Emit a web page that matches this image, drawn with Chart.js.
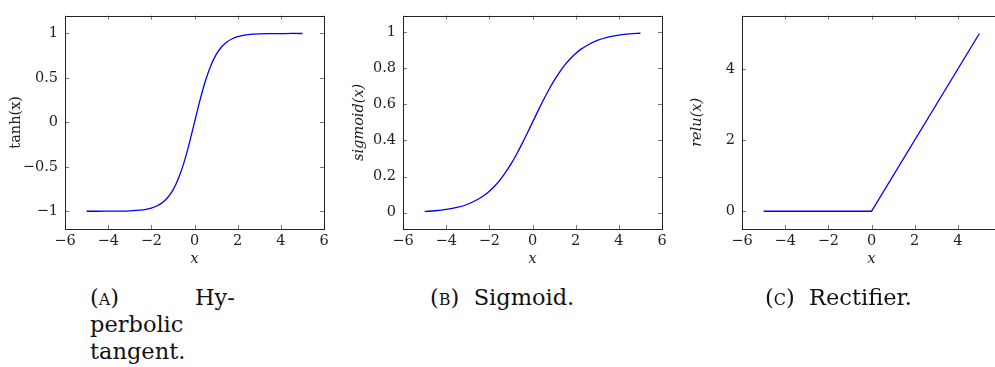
<!DOCTYPE html>
<html>
<head>
<meta charset="utf-8">
<script src="https://cdn.jsdelivr.net/npm/chart.js"></script>
<style>
  html, body { margin: 0; padding: 0; background: #fff; overflow: hidden; }
  body { width: 995px; height: 367px; position: relative; }
  .panel { position: absolute; top: 0; width: 340px; height: 270px; }
  .cap { position: absolute; font-family: "DejaVu Serif", serif; font-size: 22.5px; line-height: 27px; color: #111; white-space: nowrap; }
  .sc { font-variant: small-caps; }
</style>
</head>
<body>
<div class="panel" style="left:0px"><canvas id="chartA" width="340" height="270"></canvas></div>
<div class="panel" style="left:338px"><canvas id="chartB" width="340" height="270"></canvas></div>
<div class="panel" style="left:677px"><canvas id="chartC" width="340" height="270"></canvas></div>

<div class="cap" style="left:90px; top:284px">(<span class="sc">a</span>)</div>
<div class="cap" style="left:195px; top:284px">Hy-</div>
<div class="cap" style="left:90px; top:311px">perbolic</div>
<div class="cap" style="left:90px; top:338px">tangent.</div>
<div class="cap" style="left:430px; top:284px">(<span class="sc">b</span>)&nbsp; Sigmoid.</div>
<div class="cap" style="left:765px; top:284px">(<span class="sc">c</span>)&nbsp; Rectifier.</div>

<script>
// valeurs
const xTicks = [-6, -4, -2, 0, 2, 4, 6];

const curveX = [-5, -4.5, -4, -3.5, -3, -2.5, -2.25, -2, -1.75, -1.5, -1.25, -1, -0.75, -0.5, -0.25, 0,
                0.25, 0.5, 0.75, 1, 1.25, 1.5, 1.75, 2, 2.25, 2.5, 3, 3.5, 4, 4.5, 5];
const tanhY = [-1, -1, -0.999, -0.998, -0.995, -0.987, -0.978, -0.964, -0.941, -0.905, -0.848, -0.762, -0.635, -0.462, -0.245, 0,
               0.245, 0.462, 0.635, 0.762, 0.848, 0.905, 0.941, 0.964, 0.978, 0.987, 0.995, 0.998, 0.999, 1, 1];
const sigmoidY = [0.007, 0.011, 0.018, 0.029, 0.047, 0.076, 0.095, 0.119, 0.148, 0.182, 0.223, 0.269, 0.321, 0.378, 0.438, 0.5,
                  0.562, 0.622, 0.679, 0.731, 0.777, 0.818, 0.852, 0.881, 0.905, 0.924, 0.953, 0.971, 0.982, 0.989, 0.993];

const reluX = [-5, 0, 5];
const reluY = [0, 0, 5];

const tanhTicks = [-1, -0.5, 0, 0.5, 1];
const sigmoidTicks = [0, 0.2, 0.4, 0.6, 0.8, 1];
const reluTicks = [0, 2, 4];

const serif = "'DejaVu Serif', serif";

function formatTick(v) {
    return v < 0 ? "\u2212" + Math.abs(v) : String(v);
}

// cadre + petites graduations vers l'intérieur
const cadre = {
    id: "cadre",
    afterDraw(chart) {
        const { ctx, chartArea: a, scales } = chart;
        ctx.save();
        ctx.lineWidth = 1;
        ctx.strokeStyle = "#777";
        ctx.beginPath();
        scales.x.ticks.forEach((t, i) => {
            const px = Math.round(scales.x.getPixelForTick(i)) + 0.5;
            ctx.moveTo(px, a.bottom); ctx.lineTo(px, a.bottom - 4);
            ctx.moveTo(px, a.top); ctx.lineTo(px, a.top + 4);
        });
        scales.y.ticks.forEach((t, i) => {
            const py = Math.round(scales.y.getPixelForTick(i)) + 0.5;
            ctx.moveTo(a.left, py); ctx.lineTo(a.left + 4, py);
            ctx.moveTo(a.right, py); ctx.lineTo(a.right - 4, py);
        });
        ctx.stroke();
        ctx.strokeStyle = "#222";
        ctx.strokeRect(Math.round(a.left) + 0.5, Math.round(a.top) + 0.5, Math.round(a.right - a.left), Math.round(a.bottom - a.top));
        ctx.restore();
    }
};

function dessiner(id, xs, ys, yMin, yMax, yTicks, yTitre, italique, titrePad, lisse) {
    new Chart(document.getElementById(id), {
        type: "scatter",
        data: {
            datasets: [{
                data: xs.map((x, i) => ({ x: x, y: ys[i] })),
                showLine: true,
                borderColor: "#0000ff",
                borderWidth: 1.3,
                pointRadius: 0,
                tension: 0,
                cubicInterpolationMode: lisse ? "monotone" : "default",
                fill: false
            }]
        },
        options: {
            responsive: false,
            animation: false,
            layout: { padding: { left: 0, right: 16, top: 14, bottom: 0 } },
            plugins: { legend: { display: false }, tooltip: { enabled: false } },
            scales: {
                x: {
                    type: "linear", min: -6, max: 6,
                    afterFit: s => { s.height = 41; },
                    afterBuildTicks: s => { s.ticks = xTicks.map(v => ({ value: v })); },
                    grid: { display: false, drawTicks: false },
                    border: { display: false },
                    ticks: { padding: 4, color: "#222", autoSkip: false, maxRotation: 0, font: { family: serif, size: 14.5 }, callback: formatTick },
                    title: { display: true, text: "x", color: "#222", font: { family: serif, size: 15, style: "italic" }, padding: { top: 0, bottom: 2 } }
                },
                y: {
                    type: "linear", min: yMin, max: yMax,
                    afterFit: s => { s.width = 65; },
                    afterBuildTicks: s => { s.ticks = yTicks.map(v => ({ value: v })); },
                    grid: { display: false, drawTicks: false },
                    border: { display: false },
                    ticks: { padding: 7, color: "#222", autoSkip: false, font: { family: serif, size: 14.5 }, callback: formatTick },
                    title: { display: true, text: yTitre, color: "#222", font: { family: serif, size: 14.5, style: italique ? "italic" : "normal" }, padding: { top: titrePad, bottom: 0 } }
                }
            }
        },
        plugins: [cadre]
    });
}

dessiner("chartA", curveX, tanhY, -1.2, 1.2, tanhTicks, "tanh(x)", false, 8, true);
dessiner("chartB", curveX, sigmoidY, -0.09, 1.09, sigmoidTicks, "sigmoid(x)", true, 13, true);
dessiner("chartC", reluX, reluY, -0.5, 5.5, reluTicks, "relu(x)", true, 12, false);
</script>
</body>
</html>
